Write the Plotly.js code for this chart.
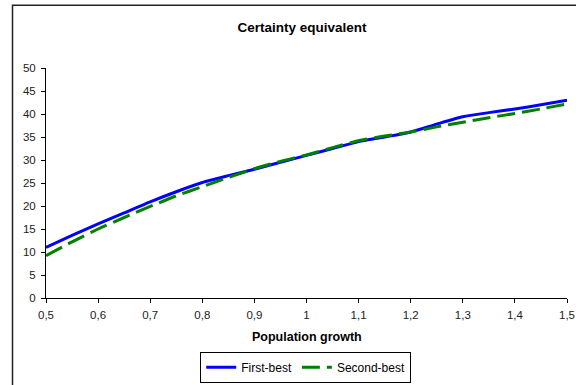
<!DOCTYPE html>
<html>
<head>
<meta charset="utf-8">
<script src="https://cdn.plot.ly/plotly-3.0.1.min.js"></script>
<style>
  html, body { margin: 0; padding: 0; background: #fff; }
  #chart { width: 576px; height: 385px; }
</style>
</head>
<body>
<div id="chart"></div>
<script>
// Population growth rates on the horizontal axis
const growth = [0.5, 0.55, 0.6, 0.65, 0.7, 0.75, 0.8, 0.85, 0.9, 0.95, 1.0,
                1.05, 1.1, 1.15, 1.2, 1.25, 1.3, 1.35, 1.4, 1.45, 1.5];
// Certainty equivalent under each regime
const firstBest  = [11.0, 13.6, 16.1, 18.5, 20.9, 23.1, 25.1, 26.6, 28.0, 29.5, 31.0,
                    32.5, 34.0, 35.0, 36.1, 37.8, 39.4, 40.3, 41.1, 42.0, 43.0];
const secondBest = [9.2, 12.2, 15.0, 17.5, 19.9, 22.2, 24.2, 26.2, 28.1, 29.7, 31.1,
                    32.7, 34.2, 35.2, 36.1, 37.2, 38.2, 39.2, 40.1, 41.1, 42.2];
const seriesNames = ['First-best', 'Second-best'];
const xTicks = [0.5, 0.6, 0.7, 0.8, 0.9, 1.0, 1.1, 1.2, 1.3, 1.4, 1.5];
const yTicks = [0, 5, 10, 15, 20, 25, 30, 35, 40, 45, 50];

const font = 'Liberation Sans, Arial, sans-serif';

const traces = [
  {
    x: growth, y: firstBest, name: seriesNames[0], type: 'scatter', mode: 'lines',
    line: { color: '#0000ff', width: 3, shape: 'spline', smoothing: 0.6 }
  },
  {
    x: growth, y: secondBest, name: seriesNames[1], type: 'scatter', mode: 'lines',
    line: { color: '#008000', width: 3, dash: '18px,7px', shape: 'spline', smoothing: 0.6 }
  }
];

const axisCommon = {
  showline: true, linecolor: '#000', linewidth: 1,
  ticks: 'outside', ticklen: 4, tickcolor: '#000', tickwidth: 1,
  showgrid: false, zeroline: false,
  tickfont: { family: font, size: 11.5, color: '#222' },
  fixedrange: true
};

const layout = {
  width: 576, height: 385,
  margin: { l: 46, r: 9, t: 68, b: 87, autoexpand: false },
  paper_bgcolor: '#fff', plot_bgcolor: '#fff',
  separators: ',.',
  showlegend: true,
  title: {
    text: '<b>Certainty equivalent</b>',
    font: { family: font, size: 13.5, color: '#000' },
    xref: 'container', x: 302 / 576, xanchor: 'center',
    yref: 'container', y: 1 - 27 / 385, yanchor: 'middle'
  },
  xaxis: Object.assign({}, axisCommon, {
    range: [0.5, 1.5], tickvals: xTicks,
    tickformat: '.1~f', ticklabelstandoff: 2
  }),
  yaxis: Object.assign({}, axisCommon, {
    range: [0, 50], tickvals: yTicks, ticklabelstandoff: 3
  }),
  legend: {
    orientation: 'h',
    x: 0.296, xanchor: 'left',
    y: (298.3 - 383) / 230, yanchor: 'bottom',
    bordercolor: '#000', borderwidth: 1,
    font: { family: font, size: 12, color: '#000' },
    itemwidth: 30,
    tracegroupgap: 0
  },
  annotations: [
    {
      text: '<b>Population growth</b>',
      xref: 'paper', yref: 'paper',
      x: (307 - 46) / 521, y: (298.3 - 337) / 230,
      xanchor: 'center', yanchor: 'middle', showarrow: false,
      font: { family: font, size: 12.5, color: '#000' }
    }
  ],
  shapes: [
    // outer chart frame
    {
      type: 'rect', xref: 'paper', yref: 'paper',
      x0: (12.5 - 46) / 521, x1: 1.2,
      y0: -0.6, y1: (298.3 - 5.5) / 230,
      line: { color: '#222', width: 1.5 }, fillcolor: 'rgba(0,0,0,0)', layer: 'below'
    }
  ]
};

Plotly.newPlot('chart', traces, layout, { displayModeBar: false, staticPlot: true });
</script>
</body>
</html>
